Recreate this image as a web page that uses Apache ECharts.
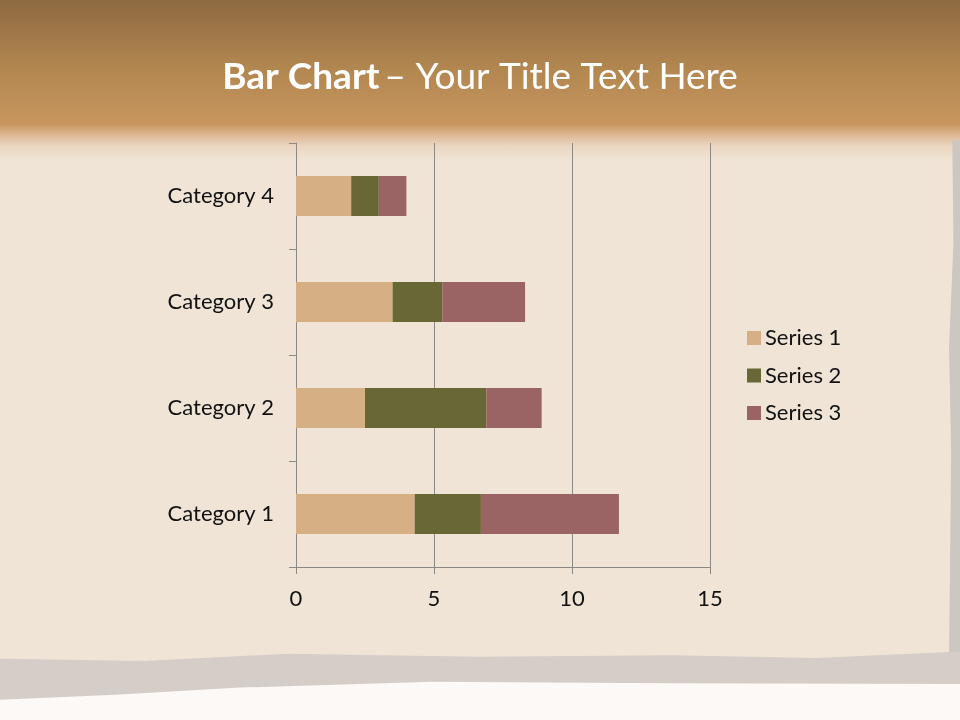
<!DOCTYPE html>
<html>
<head>
<meta charset="utf-8">
<script src="https://cdn.jsdelivr.net/npm/echarts@6/dist/echarts.min.js"></script>
<style>
html,body{margin:0;padding:0;width:960px;height:720px;overflow:hidden;}
#bg{position:absolute;left:0;top:0;width:960px;height:720px;background:#f0e4d6;}
#top{position:absolute;left:0;top:0;width:960px;height:160px;
background:linear-gradient(to bottom,#8e6a42 0px,#b38750 70px,#c8965f 124px,#dcb58f 134px,#ead6c1 146px,#f0e4d6 160px);}
#right{position:absolute;left:949px;top:140px;width:11px;height:520px;background:#cdc7c2;
clip-path:polygon(30% 0,100% 0,100% 100%,0 100%,20% 60%,0 40%,40% 20%);}
#band{position:absolute;left:0;top:0;width:960px;height:720px;background:#d4cdc8;
clip-path:polygon(0 91.5%,15% 91.8%,30% 90.8%,50% 91.2%,70% 91%,85% 91.4%,100% 90.5%,100% 100%,0 100%);}
#bottom{position:absolute;left:0;top:0;width:960px;height:720px;background:#fdf9f6;
clip-path:polygon(0 97.2%,12% 96.5%,25% 95.5%,45% 94.7%,70% 94.9%,100% 95%,100% 100%,0 100%);}
#chart{position:absolute;left:0;top:0;width:960px;height:720px;}
</style>
</head>
<body>
<div id="bg"></div><div id="top"></div><div id="right"></div><div id="band"></div><div id="bottom"></div>
<div id="chart"></div>
<script>
const categories = ['Category 1','Category 2','Category 3','Category 4'];
const series1 = [4.3, 2.5, 3.5, 2.0];
const series2 = [2.4, 4.4, 1.8, 1.0];
const series3 = [5.0, 2.0, 3.0, 1.0];
const seriesNames = ['Series 1','Series 2','Series 3'];
const xTicks = [0, 5, 10, 15];

const font = 'Lato';
const chart = echarts.init(document.getElementById('chart'), null, {renderer:'canvas'});
const axisColor = '#8c8884';
chart.setOption({
  backgroundColor: 'transparent',
  animation: false,
  color: ['#d6b084','#676835','#9a6464'],
  title: {
    text: '{b|Bar Chart} {n|– Your Title Text Here}',
    left: 'center', top: 54,
    textStyle: {
      rich: {
        b: {fontFamily: font, fontWeight: 'bold', fontSize: 37, color: '#ffffff'},
        n: {fontFamily: font, fontWeight: 'normal', fontSize: 37, color: '#ffffff'}
      }
    }
  },
  legend: {
    orient: 'vertical', left: 747, top: 327, padding: 0,
    itemWidth: 14, itemHeight: 14, itemGap: 15.5,
    icon: 'rect',
    data: seriesNames,
    textStyle: {fontFamily: font, fontSize: 22, color: '#111111', padding:[0,0,0,-1]}
  },
  grid: {left: 296, right: 250, top: 143, bottom: 153, containLabel: false},
  xAxis: {
    type: 'value', min: xTicks[0], max: xTicks[xTicks.length-1], interval: 5,
    axisLine: {show: true, lineStyle: {color: axisColor, width: 1}},
    axisTick: {show: true, length: 7, lineStyle: {color: axisColor}},
    splitLine: {show: true, lineStyle: {color: axisColor, width: 1}},
    axisLabel: {fontFamily: font, fontSize: 22, color: '#111111', margin: 21}
  },
  yAxis: {
    type: 'category', data: categories,
    axisLine: {show: true, lineStyle: {color: axisColor, width: 1}},
    axisTick: {show: true, length: 7, lineStyle: {color: axisColor}},
    axisLabel: {fontFamily: font, fontSize: 22, color: '#111111', margin: 22}
  },
  series: [
    {name: seriesNames[0], type: 'bar', stack: 'a', data: series1, barWidth: 40},
    {name: seriesNames[1], type: 'bar', stack: 'a', data: series2, barWidth: 40},
    {name: seriesNames[2], type: 'bar', stack: 'a', data: series3, barWidth: 40}
  ]
});
</script>
</body>
</html>
